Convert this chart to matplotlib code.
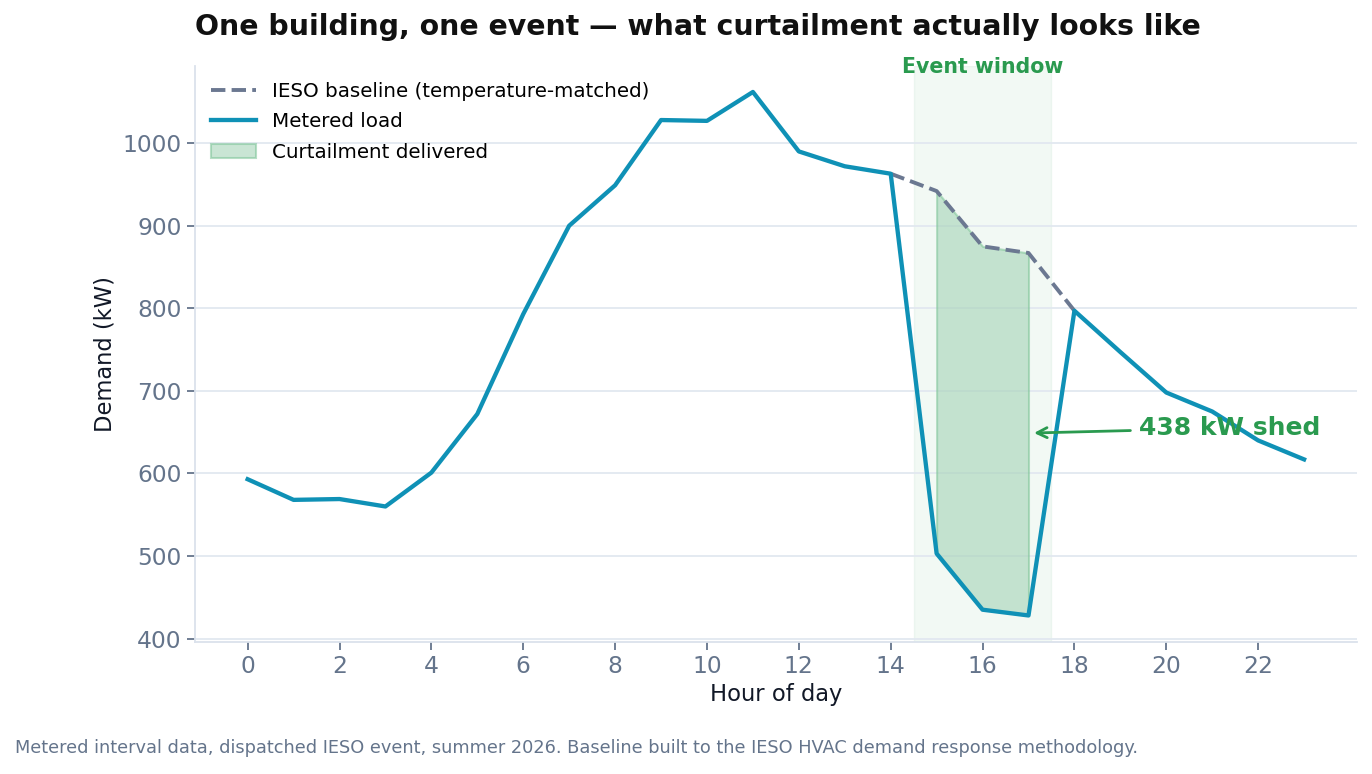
import matplotlib
matplotlib.use("Agg")
import matplotlib.pyplot as plt
import matplotlib.transforms as mtransforms

hours = list(range(24))
metered = [593, 568, 569, 560, 601, 672, 793, 900, 949, 1028, 1027, 1062,
           990, 972, 963, 503, 435, 428, 797, 747, 698, 675, 640, 617]
base_hours = [14, 15, 16, 17, 18]
baseline = [963, 942, 875, 867, 797]
event_start, event_end = 14.5, 17.5
shed_hours = [15, 16, 17]
shed_base = [942, 875, 867]
shed_load = [503, 435, 428]

plt.rcParams['font.family'] = ['DejaVu Sans']
fig = plt.figure(figsize=(13.72, 7.74), dpi=100)
ax = fig.add_axes([0.142, 0.171, 0.847, 0.744])

slate = '#64748b'
green = '#2a9a4f'
blue = '#0f91b6'

ax.axvspan(event_start, event_end, color='#2a9a4f', alpha=0.06, lw=1, zorder=0)
ax.fill_between(shed_hours, shed_load, shed_base, color='#9ed0b1', alpha=0.55,
                edgecolor='#7cc496', linewidth=1.5, zorder=1, label='Curtailment delivered')
ax.plot(base_hours, baseline, color='#6b7891', lw=2.8, ls='--', zorder=2,
        label='IESO baseline (temperature-matched)')
ax.plot(hours, metered, color=blue, lw=3.1, zorder=3, label='Metered load')

trans = mtransforms.blended_transform_factory(ax.transData, ax.transAxes)
ax.text((event_start + event_end) / 2, 0.998, 'Event window', transform=trans,
        ha='center', va='center', color=green, fontsize=14.8, fontweight='bold')

ax.annotate('438 kW shed', xy=(17.12, 649), xytext=(19.4, 655),
            fontsize=18, fontweight='bold', color=green, va='center', ha='left',
            arrowprops=dict(arrowstyle='->', color=green, lw=2.0, shrinkA=4, shrinkB=0))

ax.set_xticks(range(0, 24, 2))
ax.set_yticks(range(400, 1001, 100))
ax.grid(axis='y', color='#e2e8f0', lw=1.3)
ax.set_axisbelow(True)
for s in ['top', 'right']:
    ax.spines[s].set_visible(False)
for s in ['left', 'bottom']:
    ax.spines[s].set_color('#dbe2ec')
    ax.spines[s].set_linewidth(1.3)
ax.tick_params(axis='both', colors=slate, labelsize=16.8, length=6, width=1.3)
ax.tick_params(axis='both', labelcolor=slate)
ax.set_xlabel('Hour of day', fontsize=16.3, color='#111827')
ax.set_ylabel('Demand (kW)', fontsize=16.3, color='#111827')

handles, labels = ax.get_legend_handles_labels()
order = [1, 2, 0]
ax.legend([handles[i] for i in order], [labels[i] for i in order], loc='upper left',
          frameon=False, fontsize=14.3, handlelength=2.3, borderaxespad=0.4,
          labelspacing=0.58)

fig.text(0.142, 0.965, 'One building, one event \u2014 what curtailment actually looks like',
         fontsize=20.4, fontweight='bold', ha='left', va='center', color='#111111')
fig.text(0.011, 0.033, 'Metered interval data, dispatched IESO event, summer 2026. Baseline built to the IESO HVAC demand response methodology.',
         fontsize=12.8, color=slate, ha='left', va='center')

fig.savefig('out.png', dpi=100)
